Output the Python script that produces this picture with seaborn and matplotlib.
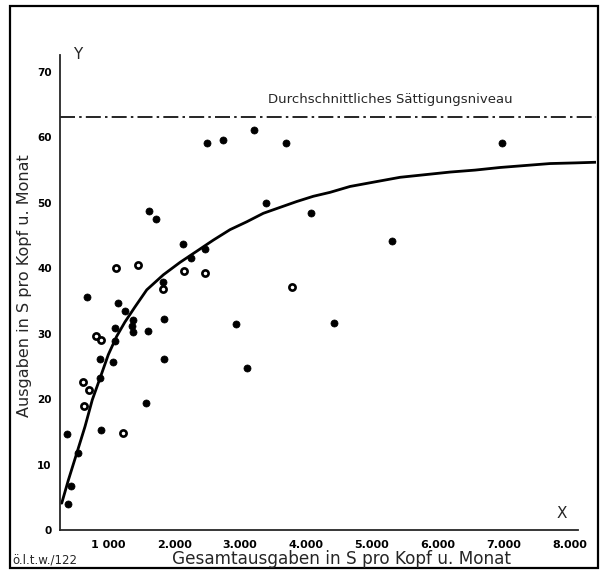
import pandas as pd
import numpy as np
import seaborn as sns
import matplotlib.pyplot as plt
from matplotlib.patches import Rectangle

# scatter points (S per head and month)
gesamt = [2493, 2736, 3206, 3692, 1618, 1719, 3388, 4080, 2129, 2472,
          2250, 2149, 2463, 1825, 1835, 3792, 1455, 1117, 681, 1152,
          1249, 1845, 1375, 1352, 1106, 1370, 1598, 813, 889, 1097,
          879, 1076, 1845, 874, 621, 712, 636, 1568, 373, 885,
          1228, 545, 429, 384, 2938, 3100, 6979, 4425, 5305]
ausgaben = [59.1, 59.6, 61.1, 59.1, 48.7, 47.6, 50.0, 48.5, 43.7, 43.0,
            41.6, 39.6, 39.3, 37.9, 36.9, 37.2, 40.5, 40.1, 35.6, 34.7,
            33.4, 32.3, 32.1, 31.2, 30.8, 30.2, 30.4, 29.6, 29.0, 28.9,
            26.2, 25.7, 26.1, 23.2, 22.6, 21.4, 18.9, 19.4, 14.7, 15.3,
            14.9, 11.7, 6.8, 3.9, 31.5, 24.7, 59.2, 31.6, 44.2]
# dots that came out as rings in the print
offen = [0, 0, 0, 0, 0, 0, 0, 0, 0, 0,
         0, 1, 1, 0, 1, 1, 1, 1, 0, 0,
         0, 0, 0, 0, 0, 0, 0, 1, 1, 0,
         0, 0, 0, 0, 1, 1, 1, 0, 0, 0,
         1, 0, 0, 0, 0, 0, 0, 0, 0]

# fitted curve
kurve_x = [293, 393, 520, 646, 757, 874, 1000, 1127, 1253, 1405,
           1583, 1835, 2088, 2341, 2593, 2847, 3100, 3352, 3605, 3859,
           4111, 4364, 4668, 5046, 5427, 5806, 6185, 6565, 6944, 7323,
           7702, 8082, 8400]
kurve_y = [4.1, 7.6, 11.7, 15.8, 19.9, 23.2, 26.8, 29.6, 31.8, 34.1,
           36.7, 39.0, 40.9, 42.6, 44.3, 45.9, 47.1, 48.4, 49.3, 50.2,
           51.0, 51.6, 52.5, 53.2, 53.9, 54.3, 54.7, 55.0, 55.4, 55.7,
           56.0, 56.1, 56.2]

saettigung = 63.1
x_ticks = [1000, 2000, 3000, 4000, 5000, 6000, 7000, 8000]
x_labels = ["1 000", "2.000", "3.000", "4.000", "5.000", "6.000", "7.000", "8.000"]
y_ticks = [0, 10, 20, 30, 40, 50, 60, 70]

sns.set_style("white")
plt.rcParams['font.family'] = ['DejaVu Sans']

fig = plt.figure(figsize=(6.08, 5.71), dpi=100)
ax = fig.add_axes([0.0987, 0.0718, 0.8816, 0.832])

punkte = pd.DataFrame({"x": gesamt, "y": ausgaben, "offen": offen})
kurve = pd.DataFrame({"x": kurve_x, "y": kurve_y})

sns.lineplot(data=kurve, x="x", y="y", ax=ax, color="black", linewidth=2.0,
             sort=True, zorder=2)
sns.scatterplot(data=punkte[punkte.offen == 0], x="x", y="y", ax=ax, color="black",
                s=26, edgecolor="black", linewidth=0.5, zorder=3)
sns.scatterplot(data=punkte[punkte.offen == 1], x="x", y="y", ax=ax, color="white",
                s=20, edgecolor="black", linewidth=1.9, zorder=3)
ax.axhline(saettigung, color="black", linewidth=1.2, dashes=(9, 2.5, 1.5, 2.5))

ax.set_xlim(267, 8400)
ax.set_ylim(0, 72.6)

for side in ["top", "right"]:
    ax.spines[side].set_visible(False)
ax.spines["left"].set_linewidth(1.3)
ax.spines["bottom"].set_linewidth(1.3)
ax.spines["bottom"].set_bounds(267, 8130)

ax.set_xticks(x_ticks)
ax.set_xticklabels(x_labels)
ax.set_xticks(np.arange(500, 8001, 1000), minor=True)
ax.set_yticks(y_ticks)
ax.set_yticks(np.arange(5, 70, 10), minor=True)
ax.tick_params(which="both", direction="in", width=1.1, labelsize=8,
               colors="black")
ax.tick_params(which="major", length=6)
ax.tick_params(axis="x", which="major", pad=7)
ax.tick_params(axis="y", which="major", pad=6, labelsize=7.5)
ax.tick_params(which="minor", length=4)
for lab in ax.get_xticklabels() + ax.get_yticklabels():
    lab.set_fontweight("semibold")

ax.set_xlabel("")
ax.set_ylabel("")

fig.text(0.041, 0.499, "Ausgaben in S pro Kopf u. Monat", rotation=90,
         ha="center", va="center", fontsize=11.5)
fig.text(0.561, 0.021, "Gesamtausgaben in S pro Kopf u. Monat",
         ha="center", va="center", fontsize=12.2)
fig.text(0.020, 0.019, "ö.l.t.w./122", ha="left", va="center", fontsize=8.5)
fig.text(0.128, 0.905, "Y", ha="center", va="center", fontsize=11)
fig.text(0.924, 0.100, "X", ha="center", va="center", fontsize=11)
fig.text(0.642, 0.825, "Durchschnittliches Sättigungsniveau",
         ha="center", va="center", fontsize=9.5)

# frame around the whole figure
fig.patches.append(Rectangle((0.016, 0.006), 0.968, 0.984, transform=fig.transFigure,
                             fill=False, edgecolor="black", linewidth=1.6))

fig.savefig("out.png", dpi=100)
